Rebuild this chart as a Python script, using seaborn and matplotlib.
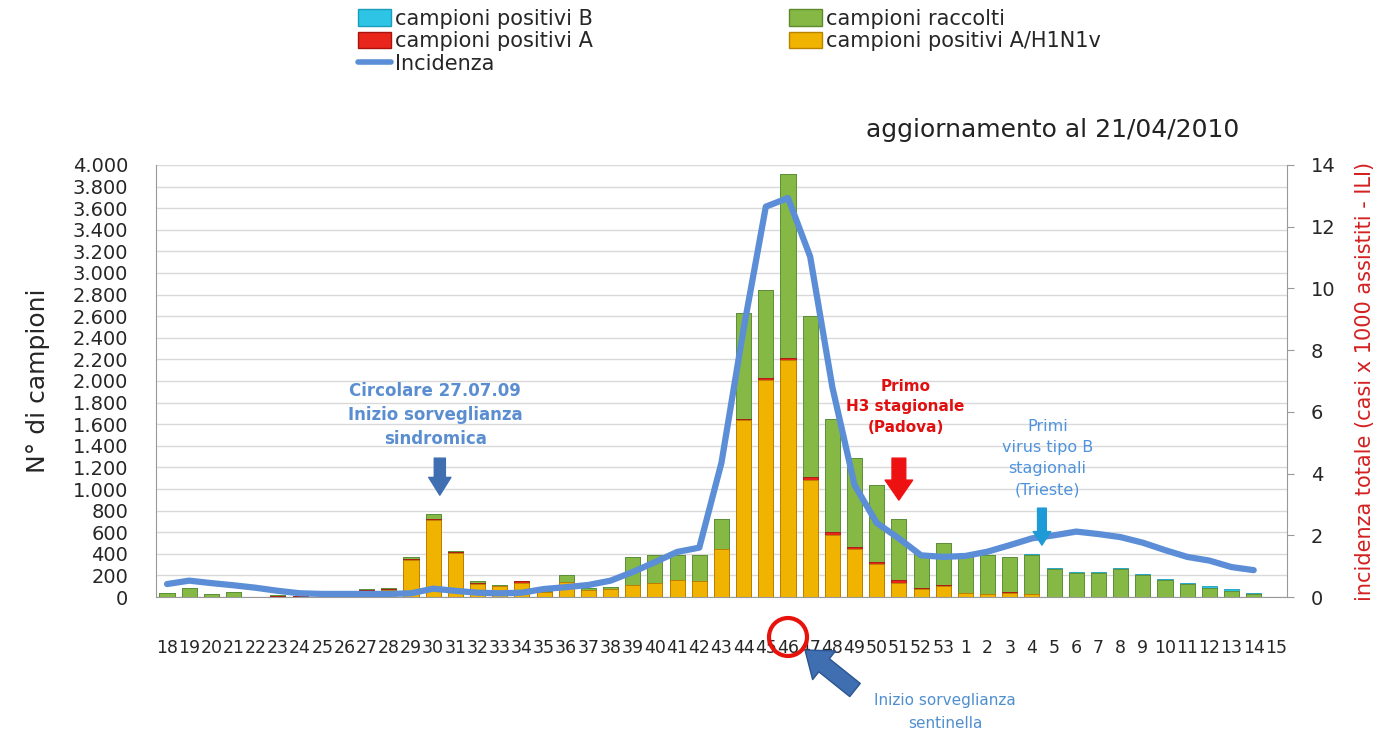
import matplotlib
matplotlib.use("Agg")
import matplotlib.pyplot as plt
import numpy as np
import seaborn as sns
from matplotlib.lines import Line2D
from matplotlib.patches import Ellipse, Patch

weeks = ["18", "19", "20", "21", "22", "23", "24", "25", "26", "27", "28", "29",
         "30", "31", "32", "33", "34", "35", "36", "37", "38", "39", "40", "41",
         "42", "43", "44", "45", "46", "47", "48", "49", "50", "51", "52", "53",
         "1", "2", "3", "4", "5", "6", "7", "8", "9", "10", "11", "12", "13", "14", "15"]

raccolti = [40, 80, 25, 45, 0, 15, 10, 0, 8, 70, 80, 375, 765, 430, 150, 110, 150, 60,
            200, 80, 90, 370, 390, 385, 390, 720, 2630, 2840, 3920, 2600, 1650, 1290,
            1040, 720, 400, 500, 370, 390, 370, 400, 270, 230, 230, 270, 215, 170, 130,
            100, 70, 40, 0]
pos_h1n1 = [0, 0, 0, 0, 0, 0, 0, 0, 5, 55, 65, 345, 710, 405, 125, 100, 130, 45,
            140, 65, 70, 110, 130, 155, 150, 440, 1640, 2010, 2190, 1080, 570, 440,
            310, 130, 75, 100, 35, 25, 40, 25, 0, 0, 0, 0, 0, 0, 0, 0, 0, 0, 0]
pos_a = [0, 0, 0, 0, 0, 12, 8, 0, 0, 10, 10, 5, 15, 15, 5, 0, 15, 5,
         0, 0, 0, 0, 0, 0, 0, 5, 10, 15, 20, 35, 30, 25,
         10, 25, 10, 10, 5, 5, 5, 5, 0, 0, 0, 0, 0, 0, 0, 0, 0, 0, 0]
pos_b = [0, 0, 0, 0, 0, 0, 0, 0, 0, 0, 0, 0, 0, 0, 0, 0, 0, 0,
         0, 0, 0, 0, 0, 0, 0, 0, 0, 0, 0, 0, 0, 0,
         0, 0, 0, 0, 0, 0, 0, 10, 15, 5, 5, 15, 12, 12, 12, 12, 12, 10, 0]
incidenza = [0.42, 0.53, 0.45, 0.38, 0.30, 0.20, 0.12, 0.10, 0.10, 0.10, 0.10, 0.12,
             0.27, 0.20, 0.14, 0.12, 0.14, 0.26, 0.32, 0.39, 0.53, 0.81, 1.13, 1.46,
             1.60, 4.35, 8.70, 12.65, 12.93, 11.03, 6.80, 3.63, 2.40, 1.90, 1.35, 1.30,
             1.33, 1.47, 1.68, 1.90, 2.00, 2.12, 2.04, 1.94, 1.76, 1.52, 1.30, 1.18,
             0.97, 0.87, np.nan]

GREEN = "#86b845"
YELLOW = "#efb300"
RED = "#e8261c"
CYAN = "#2ec4e6"
LINE = "#5b8ed6"

sns.set_style("white")
plt.rcParams["font.family"] = ["DejaVu Sans"]

fig = plt.figure(figsize=(13.8, 7.31), dpi=100)
ax = fig.add_axes([0.113, 0.1833, 0.8196, 0.591])

rac = np.array(raccolti, dtype=float)
b = np.array(pos_b, dtype=float)
h = np.array(pos_h1n1, dtype=float)
a = np.array(pos_a, dtype=float)

common = dict(order=weeks, width=0.68, saturation=1, errorbar=None, ax=ax)
# B sits on top of the collected samples, A on top of A/H1N1v
sns.barplot(x=weeks, y=rac, color=CYAN, edgecolor="#1a9cbc", linewidth=0.6, **common)
sns.barplot(x=weeks, y=rac - b, color=GREEN, edgecolor="#5d8a2b", linewidth=0.6, **common)
sns.barplot(x=weeks, y=h + a, color=RED, edgecolor="#a8140e", linewidth=0.6, **common)
sns.barplot(x=weeks, y=h, color=YELLOW, edgecolor="#b88400", linewidth=0.6, **common)

ax.set_ylim(0, 4000)
ax.set_yticks(np.arange(0, 4001, 200))
ax.set_yticklabels([f"{v:,}".replace(",", ".") for v in range(0, 4001, 200)], fontsize=14)
ax.yaxis.grid(True, color="#d9d9d9", linewidth=1)
ax.set_axisbelow(True)
ax.tick_params(axis="y", length=0, pad=20)
ax.set_xticks(np.arange(len(weeks)))
ax.set_xticklabels(weeks, fontsize=12.5)
ax.set_xticks(np.arange(-0.5, len(weeks), 1), minor=True)
ax.tick_params(axis="x", which="major", length=0, pad=30)
ax.tick_params(axis="x", which="minor", length=7, color="#999999", direction="out")
ax.set_xlabel("")
ax.set_ylabel("N° di campioni", fontsize=18, labelpad=16)
for side in ["left", "bottom"]:
    ax.spines[side].set_color("#999999")
ax.spines["top"].set_visible(False)
ax.spines["right"].set_visible(False)

ax2 = ax.twinx()
sns.lineplot(x=np.arange(len(weeks)), y=incidenza, color=LINE, linewidth=4.5, ax=ax2)
ax2.set_ylim(0, 14)
ax2.set_yticks(np.arange(0, 15, 2))
ax2.tick_params(axis="y", length=5, color="#999999", labelsize=14, pad=12)
ax2.set_ylabel("incidenza totale (casi x 1000 assistiti - ILI)", color="#d42020",
               fontsize=15, labelpad=14)
ax2.spines["right"].set_color("#999999")
for side in ["left", "top", "bottom"]:
    ax2.spines[side].set_visible(False)
ax2.grid(False)
ax2.set_xlim(-0.5, len(weeks) - 0.5)

# annotations (y in right-axis units)
ax2.text(12.1, 5.9, "Circolare 27.07.09\nInizio sorveglianza\nsindromica",
         ha="center", va="center", fontsize=12, fontweight="bold", color="#5b8ed0",
         linespacing=1.45)
ax2.annotate("", xy=(12.3, 3.3), xytext=(12.3, 4.5),
             arrowprops=dict(arrowstyle="simple,head_length=0.8,head_width=1.0,tail_width=0.5",
                             fc="#3f6fb0", ec="#3f6fb0", mutation_scale=16,
                             shrinkA=0, shrinkB=0))
ax2.text(33.3, 6.16, "Primo\nH3 stagionale\n(Padova)", ha="center", va="center",
         fontsize=11, fontweight="bold", color="#e01010", linespacing=1.45)
ax2.annotate("", xy=(33.0, 3.14), xytext=(33.0, 4.5),
             arrowprops=dict(arrowstyle="simple,head_length=0.8,head_width=1.1,tail_width=0.55",
                             fc="#ee1111", ec="#ee1111", mutation_scale=18,
                             shrinkA=0, shrinkB=0))
ax2.text(39.7, 4.5, "Primi\nvirus tipo B\nstagionali\n(Trieste)", ha="center", va="center",
         fontsize=11.5, color="#4f93dc", linespacing=1.5)
ax2.annotate("", xy=(39.45, 1.68), xytext=(39.45, 2.88),
             arrowprops=dict(arrowstyle="simple,head_length=0.7,head_width=0.9,tail_width=0.45",
                             fc="#1e9ad6", ec="#1e9ad6", mutation_scale=14,
                             shrinkA=0, shrinkB=0))

fig.text(1053 / 1380, 1 - 130 / 731, "aggiornamento al 21/04/2010", ha="center",
         va="center", fontsize=18, color="#222222")
fig.text(945 / 1380, 1 - 700 / 731, "Inizio sorveglianza", ha="center", va="center",
         fontsize=11, color="#4f8fd0")
fig.text(945 / 1380, 1 - 723 / 731, "sentinella", ha="center", va="center",
         fontsize=11, color="#4f8fd0")
ax.annotate("", xy=(805 / 1380, 1 - 650 / 731), xytext=(855 / 1380, 1 - 690 / 731),
            xycoords="figure fraction", textcoords="figure fraction",
            arrowprops=dict(arrowstyle="simple,head_length=0.8,head_width=1.2,tail_width=0.55",
                            fc="#3f6fb0", ec="#2c5590", mutation_scale=22,
                            shrinkA=0, shrinkB=0))
fig.add_artist(Ellipse((788 / 1380, 1 - 637 / 731), 38 / 1380, 38 / 731,
                       transform=fig.transFigure, fill=False, ec="#e8120c", lw=3))

handles = [
    Patch(facecolor=CYAN, edgecolor="#1a9cbc", label="campioni positivi B"),
    Patch(facecolor=RED, edgecolor="#a8140e", label="campioni positivi A"),
    Line2D([0], [0], color=LINE, lw=4, label="Incidenza"),
    Patch(facecolor=GREEN, edgecolor="#5d8a2b", label="campioni raccolti"),
    Patch(facecolor=YELLOW, edgecolor="#b88400", label="campioni positivi A/H1N1v"),
]
fig.legend(handles=handles, loc="upper left", bbox_to_anchor=(345 / 1380, 1.005),
           ncol=2, frameon=False, fontsize=15, handlelength=1.6, handleheight=0.85,
           handletextpad=0.2, columnspacing=9.4, labelspacing=0.12, borderaxespad=0.2)

fig.savefig("out.png", dpi=100)
